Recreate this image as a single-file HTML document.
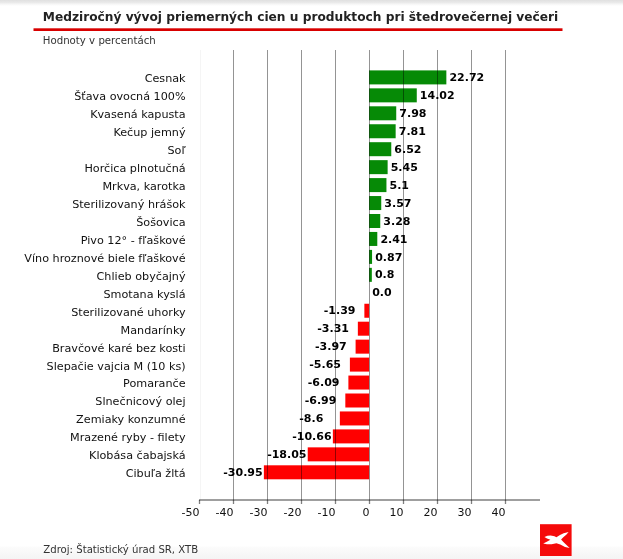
<!DOCTYPE html>
<html><head><meta charset="utf-8"><style>html,body{margin:0;padding:0;background:#fff;width:623px;height:559px;overflow:hidden;position:relative} svg text{filter:grayscale(1)}</style></head>
<body>
<svg width="623" height="559" viewBox="0 0 623 559" style="position:absolute;left:0;top:0">
<defs>
<linearGradient id="gt" x1="0" y1="0" x2="0" y2="1"><stop offset="0" stop-color="#e0e0e0"/><stop offset="0.4" stop-color="#e9e9e9"/><stop offset="0.7" stop-color="#f6f6f6"/><stop offset="1" stop-color="#fff"/></linearGradient>
<linearGradient id="gb" x1="0" y1="0" x2="0" y2="1"><stop offset="0" stop-color="#fcfcfc"/><stop offset="1" stop-color="#f4f4f4"/></linearGradient>
</defs>
<rect x="0" y="0" width="623" height="6" fill="url(#gt)"/>
<rect x="0" y="546.5" width="623" height="12.5" fill="url(#gb)"/>
<text x="42.8" y="21" font-family="'DejaVu Sans', sans-serif" font-weight="bold" font-size="12.2" fill="#222">Medziročný vývoj priemerných cien u produktoch pri štedrovečernej večeri</text>
<rect x="33.5" y="28.3" width="529" height="2.7" fill="#d80000"/>
<text x="42.8" y="44.1" font-family="'DejaVu Sans', sans-serif" font-size="10.2" fill="#333">Hodnoty v percentách</text>
<g><rect x="369.10" y="70.40" width="77.25" height="14.00" fill="#068a06"/><rect x="369.10" y="88.35" width="47.67" height="14.00" fill="#068a06"/><rect x="369.10" y="106.30" width="27.13" height="14.00" fill="#068a06"/><rect x="369.10" y="124.25" width="26.55" height="14.00" fill="#068a06"/><rect x="369.10" y="142.20" width="22.17" height="14.00" fill="#068a06"/><rect x="369.10" y="160.15" width="18.53" height="14.00" fill="#068a06"/><rect x="369.10" y="178.10" width="17.34" height="14.00" fill="#068a06"/><rect x="369.10" y="196.05" width="12.14" height="14.00" fill="#068a06"/><rect x="369.10" y="214.00" width="11.15" height="14.00" fill="#068a06"/><rect x="369.10" y="231.95" width="8.19" height="14.00" fill="#068a06"/><rect x="369.10" y="249.90" width="2.96" height="14.00" fill="#068a06"/><rect x="369.10" y="267.85" width="2.72" height="14.00" fill="#068a06"/><rect x="364.37" y="303.75" width="4.73" height="14.00" fill="#ff0000"/><rect x="357.85" y="321.70" width="11.25" height="14.00" fill="#ff0000"/><rect x="355.60" y="339.65" width="13.50" height="14.00" fill="#ff0000"/><rect x="349.89" y="357.60" width="19.21" height="14.00" fill="#ff0000"/><rect x="348.39" y="375.55" width="20.71" height="14.00" fill="#ff0000"/><rect x="345.33" y="393.50" width="23.77" height="14.00" fill="#ff0000"/><rect x="339.86" y="411.45" width="29.24" height="14.00" fill="#ff0000"/><rect x="332.86" y="429.40" width="36.24" height="14.00" fill="#ff0000"/><rect x="307.73" y="447.35" width="61.37" height="14.00" fill="#ff0000"/><rect x="263.87" y="465.30" width="105.23" height="14.00" fill="#ff0000"/></g>
<g><line x1="200.5" y1="50" x2="200.5" y2="500" stroke="#000" stroke-opacity="0.04" stroke-width="1"/><line x1="233.5" y1="50" x2="233.5" y2="500" stroke="#000" stroke-opacity="0.42" stroke-width="1"/><line x1="267.5" y1="50" x2="267.5" y2="500" stroke="#000" stroke-opacity="0.42" stroke-width="1"/><line x1="301.5" y1="50" x2="301.5" y2="500" stroke="#000" stroke-opacity="0.42" stroke-width="1"/><line x1="335.5" y1="50" x2="335.5" y2="500" stroke="#000" stroke-opacity="0.42" stroke-width="1"/><line x1="369.5" y1="50" x2="369.5" y2="500" stroke="#000" stroke-opacity="0.42" stroke-width="1"/><line x1="403.5" y1="50" x2="403.5" y2="500" stroke="#000" stroke-opacity="0.42" stroke-width="1"/><line x1="437.5" y1="50" x2="437.5" y2="500" stroke="#000" stroke-opacity="0.42" stroke-width="1"/><line x1="471.5" y1="50" x2="471.5" y2="500" stroke="#000" stroke-opacity="0.42" stroke-width="1"/><line x1="505.5" y1="50" x2="505.5" y2="500" stroke="#000" stroke-opacity="0.42" stroke-width="1"/></g>
<line x1="199" y1="500" x2="540" y2="500" stroke="#000" stroke-opacity="0.5" stroke-width="1.6"/>
<g><line x1="199.5" y1="500" x2="199.5" y2="504" stroke="#000" stroke-opacity="0.5" stroke-width="1.3"/><line x1="233.5" y1="500" x2="233.5" y2="504" stroke="#000" stroke-opacity="0.5" stroke-width="1.3"/><line x1="267.5" y1="500" x2="267.5" y2="504" stroke="#000" stroke-opacity="0.5" stroke-width="1.3"/><line x1="301.5" y1="500" x2="301.5" y2="504" stroke="#000" stroke-opacity="0.5" stroke-width="1.3"/><line x1="335.5" y1="500" x2="335.5" y2="504" stroke="#000" stroke-opacity="0.5" stroke-width="1.3"/><line x1="369.5" y1="500" x2="369.5" y2="504" stroke="#000" stroke-opacity="0.5" stroke-width="1.3"/><line x1="403.5" y1="500" x2="403.5" y2="504" stroke="#000" stroke-opacity="0.5" stroke-width="1.3"/><line x1="437.5" y1="500" x2="437.5" y2="504" stroke="#000" stroke-opacity="0.5" stroke-width="1.3"/><line x1="471.5" y1="500" x2="471.5" y2="504" stroke="#000" stroke-opacity="0.5" stroke-width="1.3"/><line x1="505.5" y1="500" x2="505.5" y2="504" stroke="#000" stroke-opacity="0.5" stroke-width="1.3"/></g>
<g font-family="'DejaVu Sans', sans-serif" font-size="11.2" fill="#111" text-anchor="end"><text x="185.6" y="82.30">Cesnak</text><text x="185.6" y="100.25">Šťava ovocná 100%</text><text x="185.6" y="118.20">Kvasená kapusta</text><text x="185.6" y="136.15">Kečup jemný</text><text x="185.6" y="154.10">Soľ</text><text x="185.6" y="172.05">Horčica plnotučná</text><text x="185.6" y="190.00">Mrkva, karotka</text><text x="185.6" y="207.95">Sterilizovaný hrášok</text><text x="185.6" y="225.90">Šošovica</text><text x="185.6" y="243.85">Pivo 12° - fľaškové</text><text x="185.6" y="261.80">Víno hroznové biele fľaškové</text><text x="185.6" y="279.75">Chlieb obyčajný</text><text x="185.6" y="297.70">Smotana kyslá</text><text x="185.6" y="315.65">Sterilizované uhorky</text><text x="185.6" y="333.60">Mandarínky</text><text x="185.6" y="351.55">Bravčové karé bez kosti</text><text x="185.6" y="369.50">Slepačie vajcia M (10 ks)</text><text x="185.6" y="387.45">Pomaranče</text><text x="185.6" y="405.40">Slnečnicový olej</text><text x="185.6" y="423.35">Zemiaky konzumné</text><text x="185.6" y="441.30">Mrazené ryby - filety</text><text x="185.6" y="459.25">Klobása čabajská</text><text x="185.6" y="477.20">Cibuľa žltá</text></g>
<g font-family="'DejaVu Sans', sans-serif" font-size="11" font-weight="bold" fill="#000"><text x="449.45" y="81.00">22.72</text><text x="419.87" y="98.95">14.02</text><text x="399.33" y="116.90">7.98</text><text x="398.75" y="134.85">7.81</text><text x="394.37" y="152.80">6.52</text><text x="390.73" y="170.75">5.45</text><text x="389.54" y="188.70">5.1</text><text x="384.34" y="206.65">3.57</text><text x="383.35" y="224.60">3.28</text><text x="380.39" y="242.55">2.41</text><text x="375.16" y="260.50">0.87</text><text x="374.92" y="278.45">0.8</text><text x="372.20" y="296.40">0.0</text><text x="323.77" y="314.35">-1.39</text><text x="317.25" y="332.30">-3.31</text><text x="315.00" y="350.25">-3.97</text><text x="309.29" y="368.20">-5.65</text><text x="307.79" y="386.15">-6.09</text><text x="304.73" y="404.10">-6.99</text><text x="299.26" y="422.05">-8.6</text><text x="292.26" y="440.00">-10.66</text><text x="267.13" y="457.95">-18.05</text><text x="223.27" y="475.90">-30.95</text></g>
<g font-family="'DejaVu Sans', sans-serif" font-size="11" fill="#111" text-anchor="end"><text x="199.5" y="516">-50</text><text x="233.5" y="516">-40</text><text x="267.5" y="516">-30</text><text x="301.5" y="516">-20</text><text x="335.5" y="516">-10</text><text x="369.5" y="516">0</text><text x="403.5" y="516">10</text><text x="437.5" y="516">20</text><text x="471.5" y="516">30</text><text x="505.5" y="516">40</text></g>
<text x="43.3" y="552.6" font-family="'DejaVu Sans', sans-serif" font-size="10.15" fill="#333">Zdroj: Štatistický úrad SR, XTB</text>
<g transform="translate(540,524.2)">
<rect x="0" y="0" width="31.6" height="31.8" fill="#f50a0a"/>
<polygon points="4.40,12.70 7.50,11.60 10.60,11.30 14.50,12.10 16.40,13.10 20.00,10.80 23.60,9.00 28.60,7.70 26.50,10.30 23.30,13.10 21.10,15.20 23.40,17.70 26.00,20.40 29.60,23.70 25.00,22.80 20.30,20.30 16.40,19.10 11.60,20.10 7.00,20.00 3.20,19.40 6.80,17.60 10.40,15.60 7.00,14.30" fill="#fff"/>
</g>
</svg>
</body></html>
